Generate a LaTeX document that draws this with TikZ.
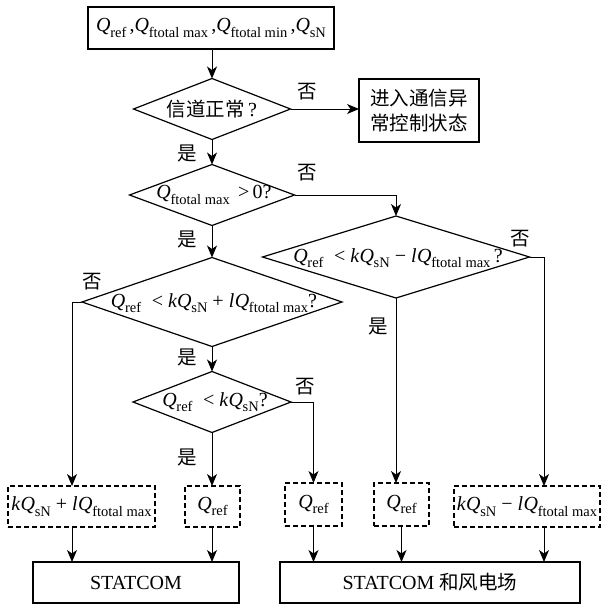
\documentclass[tikz,border=0pt]{standalone}
\usepackage{fontspec}
\setmainfont{Liberation Serif}
\newfontfamily\cjk{Noto Sans CJK SC}
\usetikzlibrary{shapes.geometric,arrows.meta}
\newcommand\Qs[1]{\textit{Q}\kern-0.3pt\raisebox{-0.28em}{\fontsize{14.5}{14.5}\selectfont #1}}
\newcommand\vk{\textit{k}}
\newcommand\vl{\textit{l}\kern0.5pt}
\begin{document}
\begin{tikzpicture}[x=1pt,y=-1pt,
  font=\fontsize{20}{22}\selectfont,
  line width=1pt,
  arr/.style={-{Stealth[length=12pt,width=10pt,inset=3.5pt]}},
  box/.style={draw, line width=1.2pt, inner sep=0pt, outer sep=0pt},
  dbox/.style={draw, line width=1.5pt, dash pattern=on 5pt off 3pt, inner sep=0pt, outer sep=0pt},
  diam/.style={draw, diamond, line width=1.2pt, inner sep=0pt, outer sep=0pt},
  txt/.style={inner sep=0pt},
  lbl/.style={font=\fontsize{19.5}{22}\selectfont\cjk, inner sep=0pt}
]
\useasboundingbox (0,0) rectangle (601,605);

% boxes
\node[box, minimum width=246pt, minimum height=42pt] (top) at (211,28)
  {\Qs{ref}\,,\Qs{ftotal max}\,,\Qs{ftotal min}\,,\Qs{sN}};
\node[box, minimum width=120pt, minimum height=63pt, align=center,
  font=\fontsize{19.5}{25}\selectfont\cjk] (box2) at (419,110.5) {进入通信异\\常控制状态};

% diamonds
\node[diam, minimum width=157pt, minimum height=61pt] (d1) at (212,109) {};
\node[txt] (d1t) at (212,109) {{\fontsize{19.5}{22}\selectfont\cjk 信道正常}\,?};
\node[diam, minimum width=165pt, minimum height=61pt] (d2) at (212,195) {};
\node[txt] (d2t) at (214,195) {\Qs{ftotal max} \,>\,0?};
\node[diam, minimum width=260pt, minimum height=89pt] (d3) at (212,302) {};
\node[txt] (d3t) at (214,303) {\Qs{ref}\; < \vk\Qs{sN} + \vl\Qs{ftotal max}?};
\node[diam, minimum width=267pt, minimum height=82pt] (d4) at (396,257) {};
\node[txt] (d4t) at (398,258) {\Qs{ref}\; < \vk\Qs{sN} − \vl\Qs{ftotal max}\,?};
\node[diam, minimum width=158pt, minimum height=61pt] (d5) at (212,402) {};
\node[txt] (d5t) at (215,402) {\Qs{ref}\; < \vk\Qs{sN}?};

% dashed result boxes
\node[dbox, minimum width=147pt, minimum height=41pt] (b1) at (81.5,506.5)
  {\vk\Qs{sN} + \vl\Qs{ftotal max}};
\node[dbox, minimum width=55pt, minimum height=41pt] (b2) at (212.5,506.5) {\Qs{ref}};
\node[dbox, minimum width=57pt, minimum height=43pt] (b3) at (313.5,504.5) {\Qs{ref}};
\node[dbox, minimum width=55pt, minimum height=43pt] (b4) at (401.5,504.5) {\Qs{ref}};
\node[dbox, minimum width=146pt, minimum height=41pt] (b5) at (527,506.5)
  {\vk\Qs{sN} − \vl\Qs{ftotal max}};

% bottom boxes
\node[box, minimum width=206pt, minimum height=41pt] (s1) at (136,582.5) {STATCOM};
\node[box, minimum width=300pt, minimum height=41pt] (s2) at (430,582.5) {STATCOM {\fontsize{19.5}{22}\selectfont\cjk 和风电场}};

\coordinate (c1) at (72,0);
\coordinate (c5) at (544,0);

% connectors
\draw[arr] (top.south -| d1.north) -- (d1.north);
\draw[arr] (d1.east) -- (box2.west |- d1.east);
\draw[arr] (d1.south) -- (d2.north);
\draw[arr] (d2.east) -| (d4.north);
\draw[arr] (d2.south) -- (d3.north);
\draw[arr] (d3.west) -- (d3.west -| c1) -- (c1 |- b1.north);
\draw[arr] (d3.south) -- (d5.north);
\draw[arr] (d5.east) -| (b3.north);
\draw[arr] (d5.south) -- (d5.south |- b2.north);
\draw[arr] (d4.south) -- (d4.south |- b4.north);
\draw[arr] (d4.east) -- (d4.east -| c5) -- (c5 |- b5.north);

\draw[arr] (c1 |- b1.south) -- (c1 |- s1.north);
\draw[arr] (d5.south |- b2.south) -- (d5.south |- s1.north);
\draw[arr] (b3.south) -- (b3.south |- s2.north);
\draw[arr] (b4.south) -- (b4.south |- s2.north);
\draw[arr] (c5 |- b5.south) -- (c5 |- s2.north);

% labels
\node[lbl] (l1) at (307,92) {否};
\node[lbl] (l2) at (187,153) {是};
\node[lbl] (l3) at (307,173) {否};
\node[lbl] (l4) at (187,239) {是};
\node[lbl] (l5) at (92,282) {否};
\node[lbl] (l6) at (520,239) {否};
\node[lbl] (l7) at (378,326) {是};
\node[lbl] (l8) at (187,357) {是};
\node[lbl] (l9) at (305,387) {否};
\node[lbl] (l10) at (187,457) {是};
\end{tikzpicture}
\end{document}
